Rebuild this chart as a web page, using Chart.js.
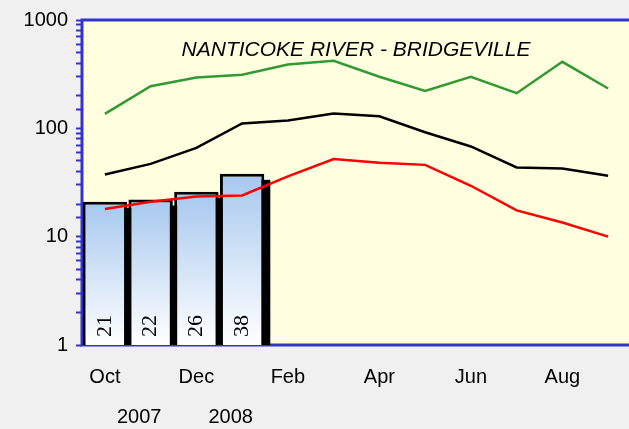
<!DOCTYPE html>
<html>
<head>
<meta charset="utf-8">
<script src="https://cdn.jsdelivr.net/npm/chart.js@4/dist/chart.umd.min.js"></script>
<style>
    html, body { margin: 0; padding: 0; background: #f0f0f0; overflow: hidden; }
    #wrap { width: 640px; height: 429px; position: relative; }
</style>
</head>
<body>
<div id="wrap"><canvas id="flowChart"></canvas></div>
<script>
const months = ['Oct', 'Nov', 'Dec', 'Jan', 'Feb', 'Mar', 'Apr', 'May', 'Jun', 'Jul', 'Aug', 'Sep'];
const yearLabels = ['', '', '2007', '', '', '', '2008', '', '', '', '', '', '', '', '', '', '', '', '', '', '', '', '', ''];
const observed = [21, 22, 26, 38, null, null, null, null, null, null, null, null];
const maxFlow = [136, 245, 294, 312, 388, 420, 299, 221, 299, 211, 411, 233];
const medianFlow = [37.5, 47, 66, 111, 118, 137, 129, 92, 68, 43.5, 42.5, 36.5];
const minFlow = [18, 21, 23.5, 24, 36, 52, 48, 46, 29.5, 17.5, 13.5, 10];
const majorTicks = [1, 10, 100, 1000];
const chartTitle = 'NANTICOKE RIVER - BRIDGEVILLE';

const BLUE = '#3333cc';
const SANS = '"Liberation Sans", Arial, sans-serif';

// yellow plot area and its blue frame, under the bars
const plotBackground = {
    id: 'plotBackground',
    beforeDatasetsDraw(chart) {
        const { ctx, chartArea: a } = chart;
        ctx.save();
        ctx.fillStyle = '#ffffe0';
        ctx.fillRect(a.left, a.top, a.right - a.left, a.bottom - a.top);
        ctx.strokeStyle = BLUE;
        ctx.lineWidth = 3;
        ctx.strokeRect(a.left, a.top, a.right - a.left, a.bottom - a.top);
        ctx.restore();
    }
};

// black drop shadow behind each bar (bar elements clip their own drawing)
const barShadow = {
    id: 'barShadow',
    beforeDatasetDraw(chart, args) {
        if (args.meta.type !== 'bar') return;
        const ctx = chart.ctx;
        ctx.save();
        ctx.fillStyle = '#000';
        args.meta.data.forEach((bar, i) => {
            if (observed[i] == null) return;
            const w = bar.width;
            ctx.fillRect(bar.x - w / 2 + 6, bar.y + 6, w, bar.base - bar.y - 6);
        });
        ctx.restore();
    }
};

const labelsAndTitle = {
    id: 'labelsAndTitle',
    afterDatasetsDraw(chart) {
        const { ctx, chartArea: a } = chart;
        ctx.save();
        // values written up the bars
        const meta = chart.getDatasetMeta(0);
        ctx.fillStyle = '#000';
        ctx.font = '22px "Liberation Serif", "Times New Roman", serif';
        ctx.textAlign = 'left';
        ctx.textBaseline = 'middle';
        meta.data.forEach((bar, i) => {
            if (observed[i] == null) return;
            ctx.save();
            ctx.translate(bar.x, a.bottom - 8);
            ctx.rotate(-Math.PI / 2);
            ctx.fillText(String(observed[i]), 0, 0);
            ctx.restore();
        });

        ctx.font = 'italic 21px ' + SANS;
        ctx.textAlign = 'center';
        ctx.fillText(chartTitle, 356, 50);
        ctx.restore();
    }
};

function barGradient(context) {
    const chart = context.chart;
    const a = chart.chartArea;
    if (!a) return '#a6c8ee';
    const v = observed[context.dataIndex];
    if (v == null) return '#a6c8ee';
    const top = chart.scales.y.getPixelForValue(v);
    const g = chart.ctx.createLinearGradient(0, top, 0, a.bottom);
    g.addColorStop(0, '#a6c8ee');
    g.addColorStop(1, '#ffffff');
    return g;
}

const lineStyle = { borderWidth: 2.5, pointRadius: 0, tension: 0, order: 1 };

new Chart(document.getElementById('flowChart'), {
    type: 'bar',
    data: {
        labels: months,
        datasets: [
            {
                label: 'Observed',
                data: observed,
                backgroundColor: barGradient,
                borderColor: '#000',
                borderWidth: 3,
                categoryPercentage: 1,
                barPercentage: 0.97,
                order: 2
            },
            { type: 'line', label: 'Max', data: maxFlow, borderColor: '#339933', ...lineStyle },
            { type: 'line', label: 'Median', data: medianFlow, borderColor: '#000', ...lineStyle },
            { type: 'line', label: 'Min', data: minFlow, borderColor: '#ff0000', ...lineStyle }
        ]
    },
    options: {
        responsive: true,
        maintainAspectRatio: false,
        animation: false,
        layout: { padding: { top: 19, right: 9, left: 0, bottom: 0 } },
        plugins: {
            legend: { display: false },
            tooltip: { enabled: false }
        },
        scales: {
            x: {
                offset: true,
                grid: { display: false, drawTicks: false },
                border: { display: false },
                afterFit: scale => { scale.height = 50; },
                ticks: {
                    autoSkip: false,
                    maxRotation: 0,
                    padding: 20,
                    color: '#000',
                    font: { family: SANS, size: 20 },
                    callback: (value, i) => (i % 2 === 0 ? months[i] : '')
                }
            },
            x2: {
                type: 'category',
                labels: yearLabels,
                position: 'bottom',
                offset: true,
                grid: { display: false, drawTicks: false },
                border: { display: false },
                afterFit: scale => { scale.height = 34; },
                ticks: {
                    autoSkip: false,
                    maxRotation: 0,
                    padding: 10,
                    color: '#000',
                    font: { family: SANS, size: 20 }
                }
            },
            y: {
                type: 'logarithmic',
                min: 1,
                max: 1000,
                afterFit: scale => { scale.width = 82; },
                border: { display: false },
                grid: {
                    drawOnChartArea: false,
                    drawTicks: true,
                    tickLength: 6,
                    tickWidth: 2,
                    color: BLUE
                },
                ticks: {
                    autoSkip: false,
                    padding: 8,
                    color: '#000',
                    font: { family: SANS, size: 20 },
                    callback: value => (majorTicks.includes(value) ? String(value) : '')
                }
            }
        }
    },
    plugins: [plotBackground, barShadow, labelsAndTitle]
});
</script>
</body>
</html>
